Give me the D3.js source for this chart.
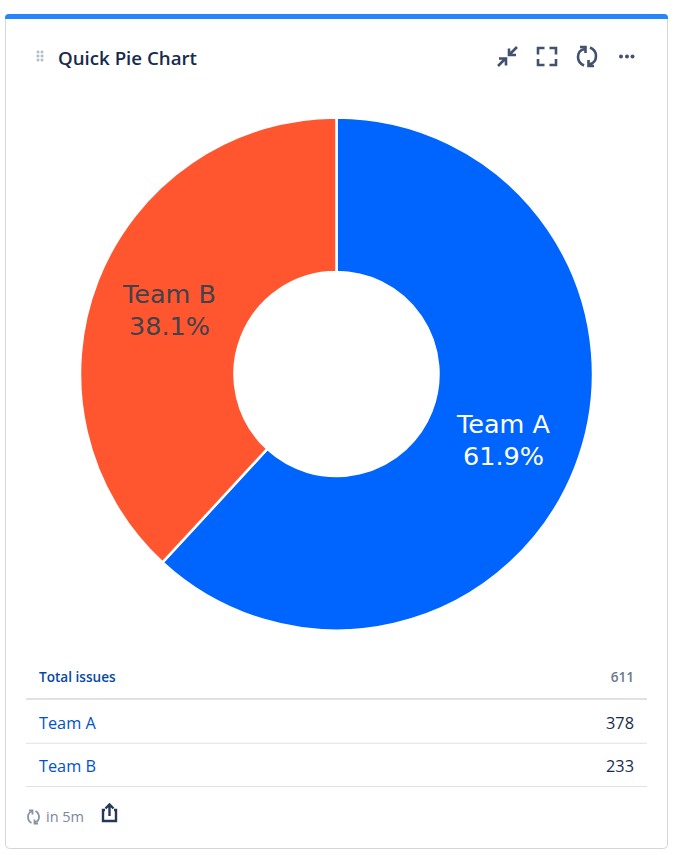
<!DOCTYPE html>
<html>
<head>
<meta charset="utf-8">
<script src="https://cdn.jsdelivr.net/npm/d3@7"></script>
<style>
	html, body { margin: 0; padding: 0; background: #fff; }
	svg { display: block; }
	text { font-family: "Open Sans", "Noto Sans", sans-serif; }
</style>
</head>
<body>
<div id="chart"></div>
<script>
var teams = ["Team A", "Team B"];
var issues = [378, 233];
var percents = ["61.9%", "38.1%"];
var sliceColors = ["#0065ff", "#ff5630"];
var labelColors = ["#ffffff", "#42424a"];
var totalLabel = "Total issues";
var totalValue = 611;

var width = 675, height = 855;
var svg = d3.select("#chart").append("svg")
	.attr("width", width)
	.attr("height", height);

// card
svg.append("rect")
	.attr("x", 5.5).attr("y", 14.5)
	.attr("width", 662).attr("height", 834)
	.attr("rx", 4)
	.attr("fill", "#fff")
	.attr("stroke", "#d3d6de");

// blue top strip, rounded at the top corners only
svg.append("path")
	.attr("d", "M5,19 V18 Q5,14 9,14 H664 Q668,14 668,18 V19 Z")
	.attr("fill", "#2684ff");

// drag handle
var dots = svg.append("g").attr("fill", "#b3b9c6");
[38, 42].forEach(function(x) {
	[52, 56, 60].forEach(function(y) {
		dots.append("rect").attr("x", x - 1.3).attr("y", y - 1.3).attr("width", 2.6).attr("height", 2.6);
	});
});

svg.append("text")
	.attr("x", 58).attr("y", 65)
	.attr("font-size", 18.7).attr("font-weight", 600)
	.attr("fill", "#172b4d")
	.text("Quick Pie Chart");

// toolbar icons
var icons = svg.append("g")
	.attr("fill", "none").attr("stroke", "#42526e")
	.attr("stroke-width", 2.6);
icons.append("path").attr("d", "M498,66 L506,58 M499,58.5 H506 V65.5");
icons.append("path").attr("d", "M517,47 L509,55 M509,48.5 V55 H516");
icons.append("path").attr("d", "M538,54.5 V48 H544.5 M549.5,48 H556 V54.5 M556,59 V65 H549.5 M544.5,65 H538 V59");
icons.append("path").attr("d", "M585,49 Q578,50 578,57 Q578,63 584,65.5 M589,64.5 Q596,63 596,56 Q596,50 590,47.5");
icons.append("path").attr("d", "M580,47 H585.5 V53 M594,66 H588.5 V60");
var more = svg.append("g").attr("fill", "#42526e");
[621, 627, 632.5].forEach(function(x) {
	more.append("circle").attr("cx", x).attr("cy", 56.5).attr("r", 2);
});

// donut
var cx = 336.5, cy = 374, outer = 256.5, inner = 102;
var pie = d3.pie().sort(null)(issues);
var arc = d3.arc().innerRadius(inner).outerRadius(outer);
var g = svg.append("g").attr("transform", "translate(" + cx + "," + cy + ")");

g.selectAll("path.slice").data(pie).enter().append("path")
	.attr("class", "slice")
	.attr("d", arc)
	.attr("fill", function(d, i) { return sliceColors[i]; })
	.attr("stroke", "#fff")
	.attr("stroke-width", 2.5);

var labels = g.selectAll("g.label").data(pie).enter().append("g")
	.attr("class", "label")
	.attr("transform", function(d) { return "translate(" + arc.centroid(d) + ")"; });
labels.append("text")
	.attr("text-anchor", "middle").attr("y", -6)
	.style("font-family", "'DejaVu Sans', sans-serif")
	.attr("font-size", 25.5)
	.attr("fill", function(d, i) { return labelColors[i]; })
	.text(function(d, i) { return teams[i]; });
labels.append("text")
	.attr("text-anchor", "middle").attr("y", 26)
	.style("font-family", "'DejaVu Sans', sans-serif")
	.attr("font-size", 25.5)
	.attr("fill", function(d, i) { return labelColors[i]; })
	.text(function(d, i) { return percents[i]; });

// table under the chart
var left = 26, right = 647, textLeft = 39, textRight = 634;
svg.append("text")
	.attr("x", textLeft).attr("y", 682)
	.attr("font-size", 13.6).attr("font-weight", 600)
	.attr("fill", "#0747a6")
	.text(totalLabel);
svg.append("text")
	.attr("x", textRight).attr("y", 682)
	.attr("text-anchor", "end")
	.attr("font-size", 13.6).attr("font-weight", 600)
	.attr("fill", "#6b778c")
	.text(totalValue);
svg.append("line")
	.attr("x1", left).attr("x2", right)
	.attr("y1", 699).attr("y2", 699)
	.attr("stroke", "#dfe1e6").attr("stroke-width", 2);

var rowY = d3.scaleBand().domain(teams).range([700, 786.5]);
var rows = svg.selectAll("g.row").data(teams).enter().append("g").attr("class", "row");
rows.append("text")
	.attr("x", textLeft)
	.attr("y", function(d) { return rowY(d) + 29; })
	.attr("font-size", 16.3)
	.attr("fill", "#0052cc")
	.text(function(d) { return d; });
rows.append("text")
	.attr("x", textRight)
	.attr("y", function(d) { return rowY(d) + 29; })
	.attr("text-anchor", "end")
	.attr("font-size", 16.3)
	.attr("fill", "#172b4d")
	.text(function(d, i) { return issues[i]; });
rows.append("line")
	.attr("x1", left).attr("x2", right)
	.attr("y1", function(d) { return rowY(d) + rowY.bandwidth(); })
	.attr("y2", function(d) { return rowY(d) + rowY.bandwidth(); })
	.attr("stroke", "#dfe1e6");

// footer: refresh countdown + share
var small = svg.append("g")
	.attr("fill", "none").attr("stroke", "#8993a4")
	.attr("stroke-width", 1.8);
small.append("path").attr("d", "M32,811.5 Q28,812.5 28,817 Q28,821 31.5,823 M34.5,822.5 Q39,821.5 39,817 Q39,813 35.5,811");
small.append("path").attr("d", "M29,810.5 H32.5 V814.5 M38,823.5 H34.5 V819.5");
svg.append("text")
	.attr("x", 46).attr("y", 822)
	.attr("font-size", 14.5)
	.attr("fill", "#7a869a")
	.text("in 5m");
var share = svg.append("g")
	.attr("fill", "none").attr("stroke", "#253858")
	.attr("stroke-width", 2.4);
share.append("path").attr("d", "M105,810 H103 V821 H116 V810 H114");
share.append("path").attr("d", "M109.5,816 V805 M105.5,808.5 L109.5,804.5 L113.5,808.5");
</script>
</body>
</html>
